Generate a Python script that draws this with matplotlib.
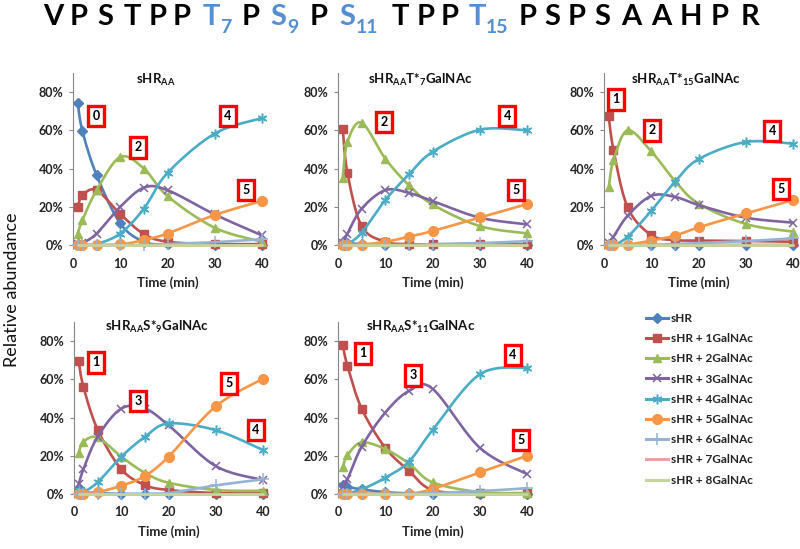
import numpy as np
import matplotlib
matplotlib.use("Agg")
import matplotlib.pyplot as plt
from matplotlib.lines import Line2D

plt.rcParams['font.family'] = ['Lato', 'DejaVu Sans']
plt.rcParams['mathtext.fontset'] = 'custom'
for k in ('rm', 'it', 'bf', 'sf'):
    plt.rcParams['mathtext.' + k] = 'Lato:bold'

# ---------------- data ----------------
time_min = [1, 2, 5, 10, 15, 20, 30, 40]
series_names = ['sHR', 'sHR + 1GalNAc', 'sHR + 2GalNAc', 'sHR + 3GalNAc',
                'sHR + 4GalNAc', 'sHR + 5GalNAc', 'sHR + 6GalNAc',
                'sHR + 7GalNAc', 'sHR + 8GalNAc']
zeros = [0, 0, 0, 0, 0, 0, 0, 0]

# panel 1: sHR_AA
aa_values = [
    [0.743, 0.595, 0.365, 0.113, 0.017, 0.003, 0.0, 0.0],
    [0.200, 0.260, 0.287, 0.162, 0.057, 0.017, 0.005, 0.005],
    [0.060, 0.130, 0.287, 0.460, 0.400, 0.256, 0.090, 0.017],
    [0.005, 0.010, 0.060, 0.200, 0.300, 0.287, 0.160, 0.050],
    [0.0, 0.0, 0.005, 0.060, 0.190, 0.377, 0.583, 0.664],
    [0.0, 0.0, 0.0, 0.003, 0.026, 0.060, 0.157, 0.231],
    [0.0, 0.0, 0.0, 0.0, 0.0, 0.005, 0.015, 0.030],
    zeros, zeros]
# panel 2: sHR_AA T*7 GalNAc
t7_values = [
    [0.017, 0.010, 0.005, 0.0, 0.0, 0.0, 0.0, 0.0],
    [0.609, 0.377, 0.099, 0.017, 0.005, 0.003, 0.003, 0.003],
    [0.351, 0.539, 0.640, 0.452, 0.313, 0.212, 0.099, 0.061],
    [0.010, 0.060, 0.190, 0.287, 0.273, 0.230, 0.143, 0.108],
    [0.0, 0.005, 0.064, 0.235, 0.369, 0.487, 0.603, 0.600],
    [0.0, 0.0, 0.002, 0.017, 0.043, 0.073, 0.144, 0.214],
    [0.0, 0.0, 0.0, 0.0, 0.0, 0.005, 0.010, 0.020],
    zeros, zeros]
# panel 3: sHR_AA T*15 GalNAc
t15_values = [
    [0.005, 0.0, 0.0, 0.0, 0.0, 0.0, 0.0, 0.0],
    [0.673, 0.499, 0.197, 0.052, 0.026, 0.023, 0.021, 0.017],
    [0.301, 0.443, 0.600, 0.490, 0.336, 0.217, 0.110, 0.070],
    [0.010, 0.043, 0.153, 0.257, 0.252, 0.209, 0.143, 0.117],
    [0.0, 0.0, 0.043, 0.179, 0.330, 0.449, 0.539, 0.530],
    [0.0, 0.0, 0.002, 0.023, 0.049, 0.092, 0.165, 0.235],
    [0.0, 0.0, 0.0, 0.0, 0.005, 0.010, 0.020, 0.035],
    zeros, zeros]
# panel 4: sHR_AA S*9 GalNAc
s9_values = [
    [0.030, 0.010, 0.005, 0.0, 0.0, 0.0, 0.0, 0.0],
    [0.694, 0.560, 0.337, 0.130, 0.047, 0.021, 0.005, 0.003],
    [0.216, 0.273, 0.296, 0.195, 0.111, 0.059, 0.021, 0.017],
    [0.050, 0.130, 0.300, 0.447, 0.447, 0.360, 0.146, 0.073],
    [0.020, 0.012, 0.061, 0.195, 0.299, 0.369, 0.334, 0.230],
    [0.0, 0.0, 0.010, 0.043, 0.094, 0.195, 0.459, 0.603],
    [0.0, 0.0, 0.0, 0.0, 0.0, 0.005, 0.045, 0.077],
    zeros, zeros]
# panel 5: sHR_AA S*11 GalNAc
s11_values = [
    [0.047, 0.038, 0.024, 0.010, 0.003, 0.0, 0.0, 0.0],
    [0.781, 0.670, 0.447, 0.242, 0.122, 0.021, 0.003, 0.003],
    [0.139, 0.203, 0.270, 0.235, 0.160, 0.061, 0.010, 0.005],
    [0.038, 0.077, 0.247, 0.426, 0.539, 0.551, 0.242, 0.104],
    [0.005, 0.005, 0.024, 0.085, 0.169, 0.334, 0.626, 0.661],
    [0.002, 0.002, 0.002, 0.002, 0.002, 0.026, 0.113, 0.200],
    [0.0, 0.0, 0.0, 0.0, 0.0, 0.005, 0.015, 0.030],
    zeros, zeros]

panel_titles = [r'$\mathrm{sHR_{AA}}$',
                r'$\mathrm{sHR_{AA}T{*}_{7}GalNAc}$',
                r'$\mathrm{sHR_{AA}T{*}_{15}GalNAc}$',
                r'$\mathrm{sHR_{AA}S{*}_{9}GalNAc}$',
                r'$\mathrm{sHR_{AA}S{*}_{11}GalNAc}$']
panel_values = [aa_values, t7_values, t15_values, s9_values, s11_values]

# numbered callouts (label, x, y in data units)
callouts = [
    [('0', 4.9, 0.675), ('2', 13.8, 0.512), ('4', 32.8, 0.675), ('5', 36.6, 0.288)],
    [('2', 9.7, 0.643), ('4', 35.8, 0.675), ('5', 37.7, 0.288)],
    [('1', 2.5, 0.763), ('2', 10.2, 0.601), ('4', 35.6, 0.596), ('5', 37.5, 0.293)],
    [('1', 4.7, 0.690), ('3', 13.6, 0.486), ('5', 32.8, 0.580), ('4', 38.5, 0.335)],
    [('1', 5.3, 0.737), ('3', 15.9, 0.622), ('4', 37.0, 0.727), ('5', 38.7, 0.282)],
]

# peptide header: (letter, subscript, highlighted, x px)
header = [('V', '', False, 53), ('P', '', False, 79), ('S', '', False, 105),
          ('T', '', False, 132), ('P', '', False, 158), ('P', '', False, 182),
          ('T', '7', True, 211), ('P', '', False, 251), ('S', '9', True, 278),
          ('P', '', False, 319), ('S', '11', True, 347), ('T', '', False, 400),
          ('P', '', False, 426), ('P', '', False, 450), ('T', '15', True, 477),
          ('P', '', False, 528), ('S', '', False, 552), ('P', '', False, 577),
          ('S', '', False, 602), ('A', '', False, 631), ('A', '', False, 661),
          ('H', '', False, 691), ('P', '', False, 720), ('R', '', False, 750)]

# ---------------- style ----------------
colors = ['#4F81BD', '#C0504D', '#9BBB59', '#8064A2', '#4BACC6', '#F79646',
          '#95B3D7', '#E6A3A1', '#C3D69B']
markers = ['D', 's', '^', 'x', (6, 2, 0), 'o', '+', None, None]
msizes = [5, 6, 6, 6, 7, 7, 8, 0, 0]

W, H = 800, 549
fig = plt.figure(figsize=(W / 100, H / 100), dpi=100)


def excel_smooth(x, y, n=24):
    P = np.column_stack([np.asarray(x, float), np.asarray(y, float)])
    out = []
    t = np.linspace(0, 1, n)[:, None]
    for i in range(len(P) - 1):
        p0 = P[max(i - 1, 0)]
        p1 = P[i]
        p2 = P[i + 1]
        p3 = P[min(i + 2, len(P) - 1)]
        c1 = p1 + (p2 - p0) / 6
        c2 = p2 - (p3 - p1) / 6
        b = (1 - t) ** 3 * p1 + 3 * (1 - t) ** 2 * t * c1 + 3 * (1 - t) * t ** 2 * c2 + t ** 3 * p2
        out.append(b if i == 0 else b[1:])
    return np.vstack(out)


# axes positions in pixels: (left, zero-line y)
panel_px = [(73, 245), (338, 245), (604, 245), (74, 494), (338, 494)]
ax_w, ax_h = 189, 172
title_dx = -12
title_y = [80, 80, 80, 327, 327]
gray = '#868686'

for k, (lx, zy) in enumerate(panel_px):
    ax = fig.add_axes([lx / W, 1 - zy / H, ax_w / W, ax_h / H])
    vals = panel_values[k]
    for s in range(9):
        xy = excel_smooth(time_min, vals[s])
        ax.plot(xy[:, 0], xy[:, 1], color=colors[s], lw=1.9, clip_on=False,
                zorder=2 + s * 0.1, solid_capstyle='round')
        if markers[s] is not None:
            filled = markers[s] in ('D', 's', '^', 'o')
            ax.plot(time_min, vals[s], linestyle='none', marker=markers[s],
                    ms=msizes[s], color=colors[s], mec=colors[s],
                    mew=1.0 if filled else 1.1, clip_on=False,
                    zorder=2.05 + s * 0.1)
    ax.set_xlim(0, 40)
    ax.set_ylim(0, 0.9)
    ax.set_xticks([0, 10, 20, 30, 40])
    ax.set_yticks([0, 0.2, 0.4, 0.6, 0.8])
    ax.set_yticklabels(['0%', '20%', '40%', '60%', '80%'])
    for sp in ('top', 'right'):
        ax.spines[sp].set_visible(False)
    for sp in ('left', 'bottom'):
        ax.spines[sp].set_color(gray)
        ax.spines[sp].set_linewidth(0.8)
    ax.tick_params(axis='y', direction='out', length=3, width=0.8, color=gray,
                   pad=4, labelsize=9)
    ax.tick_params(axis='x', direction='out', length=3, width=0.8, color=gray,
                   pad=6, labelsize=9)
    for lab in ax.get_xticklabels() + ax.get_yticklabels():
        lab.set_fontweight('bold')
        lab.set_color('#222222')
    ax.patch.set_alpha(0)
    ax.text(0.5, -38 / ax_h, 'Time (min)', transform=ax.transAxes,
            ha='center', va='center', fontsize=9.5, fontweight='bold',
            color='#222222')
    # title
    cx = lx + ax_w / 2 + title_dx
    fig.text(cx / W, 1 - title_y[k] / H, panel_titles[k], ha='center',
             va='center', fontsize=9.5, color='#111111')
    # callouts
    for lab, x, y in callouts[k]:
        ax.text(x, y, lab, ha='center', va='center', fontsize=9,
                fontweight='bold', color='black', zorder=10, clip_on=False,
                bbox=dict(boxstyle='square,pad=0.35', fc='white',
                          ec='#FF0000', lw=2.4))

# legend
handles = []
for s in range(9):
    handles.append(Line2D([0], [0], color=colors[s], lw=2.2,
                          marker=markers[s] if markers[s] is not None else None,
                          ms=msizes[s], mec=colors[s],
                          mew=1.0 if markers[s] in ('D', 's', '^', 'o') else 1.1))
leg = fig.legend(handles, series_names, loc='upper left',
                 bbox_to_anchor=(646 / W, 1 - 313 / H), frameon=False,
                 fontsize=8.5, handlelength=1.9, handletextpad=0.2,
                 labelspacing=0.78, borderpad=0, borderaxespad=0)
for t in leg.get_texts():
    t.set_fontweight('bold')
    t.set_color('#222222')

# y label
fig.text(12 / W, 1 - 290 / H, 'Relative abundance', rotation=90,
         ha='center', va='center', fontsize=13, color='#111111')

# header
blue = '#558ED5'
for letter, sub, hl, xp in header:
    col = blue if hl else 'black'
    fig.text(xp / W, 1 - 25 / H, letter, ha='center', va='baseline',
             fontsize=21, fontweight='bold', color=col)
    if sub:
        fig.text((xp + 9) / W, 1 - 33 / H, sub, ha='left', va='baseline',
                 fontsize=14, fontweight='bold', color=col)

fig.savefig('out.png', dpi=100)
